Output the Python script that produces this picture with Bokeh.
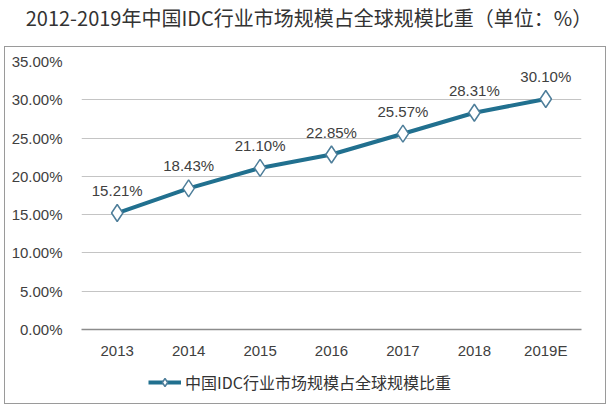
from bokeh.plotting import figure
from bokeh.models import (ColumnDataSource, FixedTicker, Legend, LegendItem, Div,
                          Range1d, FactorRange)
from bokeh.core.properties import value
from bokeh.layouts import column
from bokeh.embed import file_html
from bokeh.resources import INLINE

title_text = "2012-2019年中国IDC行业市场规模占全球规模比重（单位：%）"
series_name = "中国IDC行业市场规模占全球规模比重"
years = ["2013", "2014", "2015", "2016", "2017", "2018", "2019E"]
share = [15.21, 18.43, 21.10, 22.85, 25.57, 28.31, 30.10]
value_labels = ["15.21%", "18.43%", "21.10%", "22.85%", "25.57%", "28.31%", "30.10%"]
y_ticks = [0, 5, 10, 15, 20, 25, 30, 35]
y_tick_labels = ["0.00%", "5.00%", "10.00%", "15.00%", "20.00%", "25.00%", "30.00%", "35.00%"]

src = ColumnDataSource(dict(x=years, y=share, lab=value_labels))

FONT = "Liberation Sans"
CJK = "Noto Sans CJK SC"
LINE_COLOR = "#21708f"
MARK_LINE = "#4e7e9a"

title = Div(text=title_text, width=600, height=30,
            styles={"font-family": CJK, "font-size": "20px", "color": "#333333",
                    "text-align": "center", "width": "600px", "line-height": "26px"})

p = figure(x_range=FactorRange(*years), y_range=Range1d(0, 35),
           width=600, height=322, output_backend="svg", toolbar_location=None,
           min_border_left=76, min_border_right=24, min_border_top=14, min_border_bottom=40)
p.outline_line_color = None
p.background_fill_color = "white"
p.border_fill_color = "white"

p.yaxis.ticker = FixedTicker(ticks=y_ticks)
p.yaxis.major_label_overrides = {t: l for t, l in zip(y_ticks, y_tick_labels)}
p.yaxis.axis_line_color = None
p.yaxis.major_tick_line_color = None
p.yaxis.minor_tick_line_color = None
p.yaxis.major_label_standoff = 13
p.yaxis.major_label_text_font = FONT
p.yaxis.major_label_text_font_size = "15px"
p.yaxis.major_label_text_color = "#404040"

p.xaxis.axis_line_color = "#8c8c8c"
p.xaxis.axis_line_width = 1.5
p.xaxis.major_tick_line_color = None
p.xaxis.minor_tick_line_color = None
p.xaxis.major_label_standoff = 6
p.xaxis.major_label_text_font = FONT
p.xaxis.major_label_text_font_size = "15px"
p.xaxis.major_label_text_color = "#404040"

p.xgrid.grid_line_color = None
p.ygrid.ticker = FixedTicker(ticks=y_ticks)
p.ygrid.grid_line_color = "#c4c4c4"
p.ygrid.grid_line_width = 1

p.line("x", "y", source=src, line_color=LINE_COLOR, line_width=4)
p.scatter("x", "y", source=src, marker="diamond", size=17,
          fill_color="white", line_color=MARK_LINE, line_width=1.5)
p.text("x", "y", text="lab", source=src, text_align="center", text_baseline="bottom",
       y_offset=-14, text_font_size="15px", text_color="#404040", text_font=value(FONT))

# legend strip below the chart (same data, drawn out of this strip's view; only the legend shows)
p2 = figure(width=600, height=34, x_range=FactorRange(*years), y_range=Range1d(100, 101),
            x_axis_type=None, y_axis_type=None, output_backend="svg", toolbar_location=None,
            min_border_left=0, min_border_right=0, min_border_top=0, min_border_bottom=0)
p2.outline_line_color = None
p2.background_fill_color = "white"
p2.border_fill_color = "white"
ln2 = p2.line("x", "y", source=src, line_color=LINE_COLOR, line_width=4)
mk2 = p2.scatter("x", "y", source=src, marker="diamond", size=12,
                 fill_color="white", line_color=MARK_LINE, line_width=1.5)
legend = Legend(items=[LegendItem(label=series_name, renderers=[ln2, mk2])],
                location=(67, 9), orientation="horizontal",
                label_text_font=CJK, label_text_font_size="16px", label_text_color="#333333",
                border_line_color=None, background_fill_alpha=0,
                glyph_width=33, label_standoff=4, padding=0, margin=0)
p2.add_layout(legend, "center")

boxed = column(p, p2, spacing=0, styles={"border": "1px solid #9a9a9a"})
layout = column(title, boxed, spacing=6, styles={"margin-left": "4px"})
open("out.html", "w").write(file_html(layout, INLINE))
